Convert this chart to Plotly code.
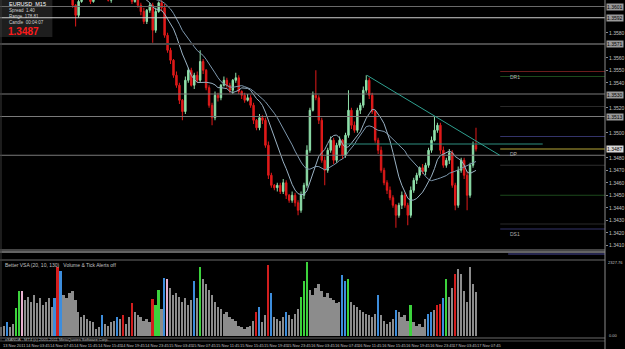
import plotly.graph_objects as go
import pandas as pd

# ---------------- data ----------------
close = [
    1.3638, 1.3642, 1.3646, 1.3645, 1.3640, 1.3637, 1.3634, 1.3630, 1.3632, 1.3635,
    1.3630, 1.3626, 1.3629, 1.3624, 1.3626, 1.3630, 1.3629, 1.3625, 1.3622, 1.3621,
    1.3624, 1.3622, 1.3618, 1.3614, 1.3602, 1.3594, 1.3605, 1.3613, 1.3616, 1.3611,
    1.3605, 1.3610, 1.3616, 1.3618, 1.3614, 1.3610, 1.3606, 1.3610, 1.3616, 1.3618,
    1.3621, 1.3616, 1.3613, 1.3609, 1.3605, 1.3609, 1.3602, 1.3597, 1.3589, 1.3598,
    1.3602, 1.3582, 1.3597, 1.3604, 1.3600, 1.3578, 1.3566, 1.3558, 1.3546, 1.3538,
    1.3526, 1.3517, 1.3542, 1.3550, 1.3538, 1.3546, 1.3542, 1.3557, 1.3550, 1.3536,
    1.3522, 1.3512, 1.3530, 1.3528, 1.3538, 1.3542, 1.3538, 1.3534, 1.3542, 1.3544,
    1.3533, 1.3530, 1.3526, 1.3528, 1.3522, 1.3510, 1.3504, 1.3512, 1.3510, 1.3490,
    1.3466, 1.3458, 1.3456, 1.3458, 1.3453, 1.3460, 1.3450, 1.3446, 1.3450, 1.3444,
    1.3438, 1.3450, 1.3458, 1.3486, 1.3518, 1.3530, 1.3528, 1.3510, 1.3478, 1.3470,
    1.3486, 1.3494, 1.3478, 1.3490, 1.3494, 1.3482, 1.3498, 1.3518, 1.3506, 1.3502,
    1.3518, 1.3522, 1.3534, 1.3542, 1.3530, 1.3517, 1.3494, 1.3486, 1.3470, 1.3460,
    1.3454, 1.3448, 1.3442, 1.3434, 1.3442, 1.3450, 1.3442, 1.3434, 1.3454, 1.3462,
    1.3466, 1.3472, 1.3469, 1.3474, 1.3486, 1.3494, 1.3502, 1.3506, 1.3486, 1.3474,
    1.3478, 1.3484, 1.3458, 1.3442, 1.3470, 1.3478, 1.3466, 1.3450, 1.3474, 1.3490,
    1.3487,
]
first_open = 1.3636

upper_wick_pips = [
    2, 3, 1, 2, 4, 2, 1, 3, 2, 2, 1, 3, 2, 2, 1, 3, 2, 1, 2, 3,
    2, 1, 3, 2, 2, 1, 4, 2, 1, 3, 2, 2, 1, 3, 2, 2, 3, 1, 2, 2,
    3, 1, 2, 2, 3, 2, 1, 2, 3, 1, 2, 2, 3, 1, 2, 3, 2, 2, 1, 3,
    2, 1, 3, 2, 2, 2, 3, 9, 2, 1, 2, 2, 3, 2, 1, 3, 2, 2, 1, 4,
    2, 1, 2, 3, 2, 2, 1, 3, 2, 2, 3, 2, 1, 2, 2, 3, 2, 1, 3, 2,
    2, 3, 2, 4, 2, 3, 20, 2, 2, 3, 2, 3, 2, 2, 3, 1, 2, 16, 2, 3,
    2, 2, 3, 4, 2, 2, 1, 2, 3, 2, 2, 3, 2, 1, 2, 3, 2, 2, 3, 2,
    2, 1, 3, 2, 2, 3, 11, 2, 2, 3, 2, 3, 2, 2, 3, 2, 2, 3, 2, 3,
    14,
]
lower_wick_pips = [
    2, 1, 3, 2, 2, 1, 2, 3, 1, 2, 2, 2, 1, 3, 2, 2, 1, 2, 3, 2,
    1, 2, 2, 3, 2, 9, 2, 1, 2, 3, 2, 1, 2, 2, 3, 2, 1, 2, 2, 1,
    2, 3, 1, 2, 2, 1, 2, 3, 2, 2, 2, 10, 2, 1, 3, 2, 2, 3, 2, 2,
    3, 7, 2, 2, 1, 3, 2, 2, 3, 2, 2, 6, 2, 3, 2, 1, 2, 2, 3, 2,
    2, 3, 2, 1, 2, 3, 2, 2, 3, 2, 3, 2, 2, 3, 2, 2, 3, 2, 2, 3,
    4, 2, 3, 2, 2, 1, 2, 3, 2, 12, 2, 2, 3, 2, 2, 3, 2, 2, 3, 2,
    2, 3, 2, 2, 3, 2, 2, 3, 2, 2, 3, 2, 2, 10, 2, 3, 2, 8, 2, 2,
    3, 2, 2, 3, 2, 2, 1, 2, 3, 2, 2, 3, 2, 4, 2, 2, 3, 12, 2, 2,
    2,
]

volume = [
    275, 330, 440, 275, 385, 902, 1452, 1430, 1155, 1265,
    1100, 1320, 1045, 1210, 990, 1100, 1210, 935, 1210, 2222,
    2090, 1320, 1210, 1375, 1430, 1155, 770, 605, 660, 550,
    495, 440, 220, 275, 660, 385, 330, 440, 495, 605,
    550, 660, 385, 605, 1045, 770, 660, 605, 495, 550,
    440, 1188, 990, 1485, 880, 1870, 1815, 1540, 1320, 1375,
    1265, 1100, 1210, 990, 1155, 1760, 1210, 2200, 1815, 1650,
    1485, 1320, 1100, 935, 880, 715, 770, 605, 550, 495,
    330, 275, 220, 275, 330, 495, 770, 935, 440, 660,
    2277, 1375, 605, 550, 495, 605, 770, 660, 550, 715,
    880, 1265, 1760, 2365, 1485, 1320, 1540, 1650, 1430, 1265,
    1375, 1210, 1155, 1045, 1100, 1958, 1760, 1815, 1100, 990,
    935, 825, 770, 715, 660, 605, 715, 1320, 660, 495,
    385, 440, 550, 825, 770, 605, 660, 495, 990, 440,
    330, 385, 275, 550, 715, 770, 825, 990, 1012, 1210,
    1815, 1265, 1540, 1980, 2145, 1980, 1430, 1100, 2200, 1650,
    1408,
]
volume_class = list(
    "ggbggGGpgg" "ggggggggbr" "bggggggggg" "ggggbggggb" "grggrggggg"
    "grGGgbpggg" "gggggbgGgg" "gggggggggg" "ggggggrbgg" "rbggggbggg"
    "gGGGgggggg" "gggggbbGgg" "gggggggbgg" "gggbggggGg" "ggggbbgrrb"
    "Gggrgggggg" "g"
)

time_labels = [
    "13 Nov 2011", "14 Nov 03:45", "14 Nov 07:45", "14 Nov 11:45", "14 Nov 15:45",
    "14 Nov 19:45", "14 Nov 23:45", "15 Nov 03:45", "15 Nov 07:45", "15 Nov 11:45",
    "15 Nov 15:45", "15 Nov 19:45", "15 Nov 23:45", "16 Nov 03:45", "16 Nov 07:45",
    "16 Nov 11:45", "16 Nov 15:45", "16 Nov 19:45", "16 Nov 23:45", "17 Nov 03:45",
    "17 Nov 07:45",
]
time_label_index = [0, 8, 16, 24, 32, 40, 48, 56, 64, 72, 80, 88, 96, 104, 112,
                    120, 128, 136, 144, 152, 160]

# right price-scale tick values (those hidden behind highlighted boxes left out)
price_ticks = [1.3410, 1.3420, 1.3430, 1.3440, 1.3450, 1.3460, 1.3470, 1.3480,
               1.3500, 1.3520, 1.3540, 1.3550, 1.3560, 1.3580]

# horizontal price levels drawn across the chart
full_levels = [1.3601, 1.3592, 1.3571, 1.3531, 1.3513, 1.3482]
full_level_colors = ["#6a6a6a", "#d0d0d0", "#4a4a4a", "#7a7a7a", "#7a7a7a", "#7a7a7a"]
full_level_widths = [1, 1, 2, 1, 1, 1]

# pivot levels (right margin only)
pivot_levels = [1.3549, 1.3545, 1.3521, 1.3497, 1.3487, 1.3474, 1.3450, 1.3427, 1.3423]
pivot_colors = ["#6a1c1c", "#1c4a1c", "#2a2a2a", "#34346a", "#b8a838", "#2e2e2e",
                "#1c4a1c", "#2a2a2a", "#34346a"]
pivot_names = {1.3549: "DR1", 1.3487: "DP", 1.3423: "DS1"}

trend_x = [123.2, 168.0]
trend_p = [1.3546, 1.3482]
resist_x = [116.0, 182.5]
resist_p = 1.3491

axis_boxes = [1.3601, 1.3592, 1.3571, 1.3530, 1.3513]
current_price = 1.3487

# ---------------- derived ----------------
PIP = 0.0001
opens = [first_open] + close[:-1]
highs = [max(o, c) + u * PIP for o, c, u in zip(opens, close, upper_wick_pips)]
lows = [min(o, c) - d * PIP for o, c, d in zip(opens, close, lower_wick_pips)]
xs = list(range(len(close)))
s = pd.Series(close)
ma_fast = s.rolling(10).mean()
ma_slow = s.rolling(20).mean()

color_map = {"g": "#8c8c8c", "r": "#d21e1e", "b": "#3d8ddc", "G": "#3cd23c", "p": "#e8b0d0"}
vol_colors = [color_map[c] for c in volume_class]

# ---------------- geometry ----------------
W, H = 625, 349
MR, MB = 13, 12
PW, PH = W - MR, H - MB


def px(x):
    return x / PW


def py(y):
    return 1 - y / PH


YMAX = 1.36062
YMIN = YMAX - 249 * 0.00008
XMIN, XMAX = -0.5, PW / 3 - 0.5

fig = go.Figure()
fig.add_trace(go.Scatter(x=xs, y=ma_slow, mode="lines", line=dict(color="#7e98ae", width=1),
                         hoverinfo="skip", xaxis="x", yaxis="y"))
fig.add_trace(go.Scatter(x=xs, y=ma_fast, mode="lines", line=dict(color="#9ab2c4", width=1),
                         hoverinfo="skip", xaxis="x", yaxis="y"))
fig.add_trace(go.Candlestick(
    x=xs, open=opens, high=highs, low=lows, close=close,
    increasing=dict(line=dict(color="#8fe0aa", width=1), fillcolor="#8fe0aa"),
    decreasing=dict(line=dict(color="#e01a1a", width=1), fillcolor="#e01a1a"),
    whiskerwidth=0, xaxis="x", yaxis="y", hoverinfo="skip"))
fig.add_trace(go.Bar(x=xs, y=volume, marker=dict(color=vol_colors, line=dict(width=0)),
                     width=0.6, xaxis="x2", yaxis="y2", hoverinfo="skip"))

shapes = []
# info box
shapes.append(dict(type="rect", xref="paper", yref="paper", x0=0, x1=px(53), y0=py(37), y1=py(0),
                   fillcolor="#1e1e1e", line=dict(width=0), layer="above"))
for lvl, col, w in zip(full_levels, full_level_colors, full_level_widths):
    shapes.append(dict(type="line", xref="paper", yref="y", x0=0, x1=1, y0=lvl, y1=lvl,
                       line=dict(color=col, width=w)))
for lvl, col in zip(pivot_levels, pivot_colors):
    shapes.append(dict(type="line", xref="paper", yref="y", x0=px(506), x1=1, y0=lvl, y1=lvl,
                       line=dict(color=col, width=1)))
shapes.append(dict(type="line", xref="x", yref="y", x0=resist_x[0], x1=resist_x[1],
                   y0=resist_p, y1=resist_p, line=dict(color="#2f8f80", width=1)))
shapes.append(dict(type="line", xref="x", yref="y", x0=trend_x[0], x1=trend_x[1],
                   y0=trend_p[0], y1=trend_p[1], line=dict(color="#2fa090", width=1)))
# pane separators
for yy, col, w in [(250, "#8a8a8a", 1), (252, "#c8c8c8", 1), (260, "#6a6a6a", 1),
                   (338, "#6a6a6a", 1), (341, "#4a4a4a", 1)]:
    shapes.append(dict(type="line", xref="paper", yref="paper", x0=0, x1=1, y0=py(yy), y1=py(yy),
                       line=dict(color=col, width=w)))
shapes.append(dict(type="line", xref="paper", yref="paper", x0=px(514), x1=1, y0=py(254), y1=py(254),
                   line=dict(color="#26264e", width=2)))
# right axis border
shapes.append(dict(type="line", xref="paper", yref="paper", x0=1, x1=1, y0=py(349), y1=1,
                   line=dict(color="#8a8a8a", width=1)))
shapes.append(dict(type="line", xref="paper", yref="paper", x0=px(1), x1=px(1), y0=py(341), y1=1,
                   line=dict(color="#3a3a3a", width=1)))

ann = []
FONT = "Liberation Sans"
info = [("EURUSD  M15", 4, 5.5, "#ffffff"), ("Spread  1.40", 10.5, 4.5, "#d0d0d0"),
        ("Range  178.81", 16.5, 4.5, "#d0d0d0"), ("Candle  00:04:07", 22.5, 4.5, "#d0d0d0")]
for t, yy, fs, col in info:
    ann.append(dict(text=t, xref="paper", yref="paper", x=px(8), y=py(yy), xanchor="left",
                    yanchor="middle", showarrow=False, borderpad=0,
                    font=dict(family=FONT, size=fs, color=col)))
ann.append(dict(text="<b>1.3487</b>", xref="paper", yref="paper", x=px(7), y=py(31.5), xanchor="left",
                yanchor="middle", showarrow=False, borderpad=0,
                font=dict(family=FONT, size=10, color="#ff1a1a")))
for lvl, name in pivot_names.items():
    ann.append(dict(text=name, xref="paper", yref="y", x=px(514), y=lvl, xanchor="left",
                    yanchor="top", showarrow=False, font=dict(family=FONT, size=5, color="#b0b0b0")))
for lvl in axis_boxes:
    ann.append(dict(text=f"{lvl:.4f}", xref="paper", yref="y", x=px(613), y=lvl, xanchor="left",
                    yanchor="middle", showarrow=False, bgcolor="#9a9a9a", borderpad=0,
                    font=dict(family=FONT, size=5, color="#000000")))
ann.append(dict(text=f"{current_price:.4f}", xref="paper", yref="y", x=px(613), y=current_price,
                xanchor="left", yanchor="middle", showarrow=False, bgcolor="#d8d8d8", borderpad=0,
                font=dict(family=FONT, size=5, color="#000000")))
ann.append(dict(text="Better VSA (20, 10, 130)   Volume & Tick Alerts off", xref="paper", yref="paper",
                x=px(3), y=py(265), xanchor="left", yanchor="middle", showarrow=False,
                font=dict(family=FONT, size=5, color="#c0c0c0")))
ann.append(dict(text="xSANDA - MT4 (c) 2005-2011 MetaQuotes Software Corp.", xref="paper", yref="paper",
                x=px(3), y=py(339.5), xanchor="left", yanchor="middle", showarrow=False,
                font=dict(family=FONT, size=4, color="#b0b0b0")))
ann.append(dict(text="2327.76", xref="paper", yref="paper", x=px(613), y=py(262), xanchor="left",
                yanchor="middle", showarrow=False, font=dict(family=FONT, size=4, color="#c0c0c0")))
ann.append(dict(text="0.00", xref="paper", yref="paper", x=px(614), y=py(335), xanchor="left",
                yanchor="middle", showarrow=False, font=dict(family=FONT, size=4, color="#c0c0c0")))
for i, t in zip(time_label_index, time_labels):
    ann.append(dict(text=t, xref="x2", yref="paper", x=i - 0.3, y=py(345.5), xanchor="left",
                    yanchor="middle", showarrow=False, font=dict(family=FONT, size=4, color="#c0c0c0")))

fig.update_layout(
    width=W, height=H, margin=dict(l=0, r=MR, t=0, b=MB),
    paper_bgcolor="#000000", plot_bgcolor="#000000", showlegend=False,
    xaxis=dict(domain=[0, 1], anchor="y", range=[XMIN, XMAX], showgrid=False, zeroline=False,
               showticklabels=False, rangeslider=dict(visible=False), fixedrange=True),
    yaxis=dict(domain=[py(249), 1], anchor="x", side="right", range=[YMIN, YMAX], showgrid=False,
               zeroline=False, tickmode="array", tickvals=price_ticks, tickformat=".4f",
               ticks="outside", ticklen=2, tickcolor="#8a8a8a",
               tickfont=dict(family=FONT, size=5, color="#c0c0c0")),
    xaxis2=dict(domain=[0, 1], anchor="y2", range=[XMIN, XMAX], matches="x", showgrid=False,
                zeroline=False, showticklabels=False),
    yaxis2=dict(domain=[py(336), py(262)], anchor="x2", side="right", range=[0, 2370], showgrid=False,
                zeroline=False, showticklabels=False),
    bargap=0, shapes=shapes, annotations=ann,
)

fig.write_html("out.html")
